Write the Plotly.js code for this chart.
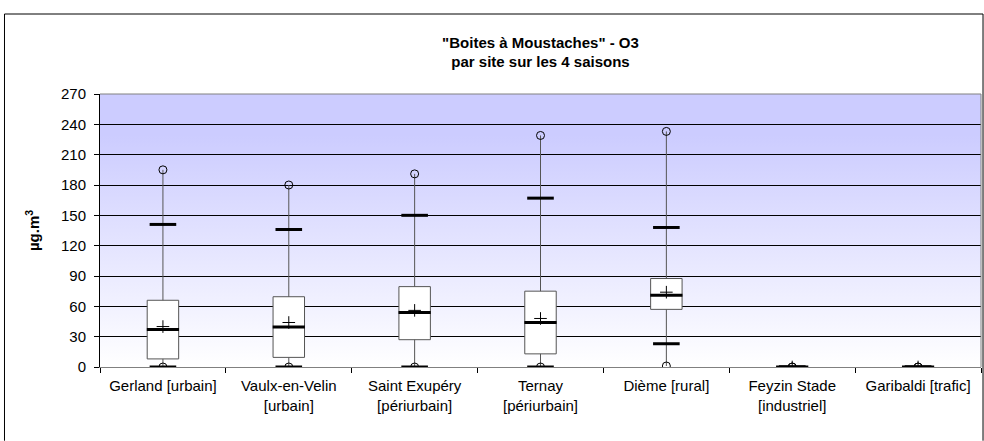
<!DOCTYPE html>
<html><head><meta charset="utf-8">
<script src="https://cdn.plot.ly/plotly-3.0.1.min.js"></script>
<style>html,body{margin:0;padding:0;background:#fff}#chart{width:984px;height:441px}</style>
</head><body><div id="chart"></div>
<script>
var sites = ["Gerland [urbain]", "Vaulx-en-Velin<br>[urbain]", "Saint Exupéry<br>[périurbain]", "Ternay<br>[périurbain]", "Dième [rural]", "Feyzin Stade<br>[industriel]", "Garibaldi [trafic]"];
var minVals = [0, 0, 0, 0, 1, 0, 0];
var p2Vals  = [0, 0, 0, 0, 23, 0, 0];
var q1Vals  = [8, 9.5, 27, 13, 57, 0, 0];
var medVals = [37, 39.5, 54, 44, 71, 0, 0];
var meanVals= [40, 44, 56, 48, 74, 0, 0];
var q3Vals  = [66, 69.5, 79.5, 75, 87.5, 0, 0];
var p98Vals = [141, 136, 150, 167, 138, 0, 0];
var maxVals = [195, 180, 191, 229, 233, 0, 0];
var yTicks = [0, 30, 60, 90, 120, 150, 180, 210, 240, 270];

var font = "Liberation Sans, Arial, sans-serif";
var fs = 15;

var traces = [
  {type: "box", x: sites, q1: q1Vals, median: medVals, q3: q3Vals,
   lowerfence: minVals, upperfence: maxVals, width: 0.25, whiskerwidth: 0,
   fillcolor: "#ffffff", line: {color: "#555555", width: 1}, boxpoints: false,
   hoverinfo: "skip", showlegend: false},
  {type: "scatter", mode: "markers", x: sites, y: medVals, showlegend: false, hoverinfo: "skip",
   marker: {symbol: "line-ew", size: 23, color: "#000", line: {color: "#000", width: 3}}},
  {type: "scatter", mode: "markers", x: sites, y: p98Vals, showlegend: false, hoverinfo: "skip",
   marker: {symbol: "line-ew", size: 19, color: "#000", line: {color: "#000", width: 3}}},
  {type: "scatter", mode: "markers", x: sites, y: p2Vals, showlegend: false, hoverinfo: "skip",
   marker: {symbol: "line-ew", size: 19, color: "#000", line: {color: "#000", width: 3}}},
  {type: "scatter", mode: "markers", x: sites, y: meanVals, showlegend: false, hoverinfo: "skip",
   marker: {symbol: "cross-thin", size: 9, color: "#000", line: {color: "#000", width: 1}}},
  {type: "scatter", mode: "markers", x: sites, y: maxVals, showlegend: false, hoverinfo: "skip",
   marker: {symbol: "circle-open", size: 8, color: "#000", line: {color: "#000", width: 1}}},
  {type: "scatter", mode: "markers", x: sites, y: minVals, showlegend: false, hoverinfo: "skip",
   marker: {symbol: "circle-open", size: 8, color: "#000", line: {color: "#000", width: 1}}}
];

var grad = '<svg xmlns="http://www.w3.org/2000/svg" width="100" height="100" preserveAspectRatio="none">' +
  '<defs><linearGradient id="g" x1="0" y1="0" x2="0" y2="1">' +
  '<stop offset="0" stop-color="#CCCCFF"/><stop offset="0.15" stop-color="#CCCCFF"/>' +
  '<stop offset="1" stop-color="#FFFFFF"/></linearGradient></defs>' +
  '<rect width="100" height="100" fill="url(#g)"/></svg>';

var layout = {
  width: 984, height: 441,
  margin: {l: 100, r: 3, t: 94, b: 74},
  paper_bgcolor: "#ffffff", plot_bgcolor: "rgba(0,0,0,0)",
  font: {family: font, size: fs, color: "#000"},
  title: {text: "<b>\"Boites à Moustaches\" - O3<br>par site sur les 4 saisons</b>",
          font: {family: font, size: fs, color: "#000"}, x: 0.5, xref: "paper",
          y: 0.892, yref: "container", yanchor: "top"},
  showlegend: false,
  xaxis: {type: "category", showgrid: false, zeroline: false,
          showline: true, linecolor: "#808080", linewidth: 1, mirror: false,
          ticks: "outside", ticklen: 5, tickcolor: "#000", tickson: "boundaries",
          ticklabelstandoff: 5,
          tickfont: {family: font, size: fs, color: "#000"}, range: [-0.5, 6.5]},
  yaxis: {range: [0, 270], tickvals: yTicks, ticktext: yTicks.map(String),
          showgrid: true, gridcolor: "#000000", gridwidth: 1, zeroline: false,
          showline: true, linecolor: "#000", linewidth: 1, ticks: "outside", ticklen: 5,
          ticklabelstandoff: 5,
          tickcolor: "#000", tickfont: {family: font, size: fs, color: "#000"},
          title: {text: "<b>µg.m<sup>3</sup></b>", font: {family: font, size: fs, color: "#000"}, standoff: 17}},
  images: [{source: "data:image/svg+xml;charset=utf-8," + encodeURIComponent(grad),
            xref: "paper", yref: "paper", x: 0, y: 1, sizex: 1, sizey: 1,
            sizing: "stretch", xanchor: "left", yanchor: "top", layer: "below"}],
  shapes: [
    {type: "line", xref: "paper", yref: "paper", x0: 0, x1: 1, y0: 1, y1: 1, line: {color: "#808080", width: 1}},
    {type: "line", xref: "paper", yref: "paper", x0: 1, x1: 1, y0: 0, y1: 1, line: {color: "#808080", width: 1}},
    {type: "line", xref: "paper", yref: "paper", x0: -0.1084, x1: 1.0023, y0: 1.293, y1: 1.293, line: {color: "#000", width: 1}},
    {type: "line", xref: "paper", yref: "paper", x0: -0.1084, x1: -0.1084, y0: 1.293, y1: -0.27, line: {color: "#000", width: 1}},
    {type: "line", xref: "paper", yref: "paper", x0: 1.0023, x1: 1.0023, y0: 1.293, y1: -0.27, line: {color: "#000", width: 1}}
  ]
};

Plotly.newPlot("chart", traces, layout, {displayModeBar: false, staticPlot: true});
</script></body></html>
